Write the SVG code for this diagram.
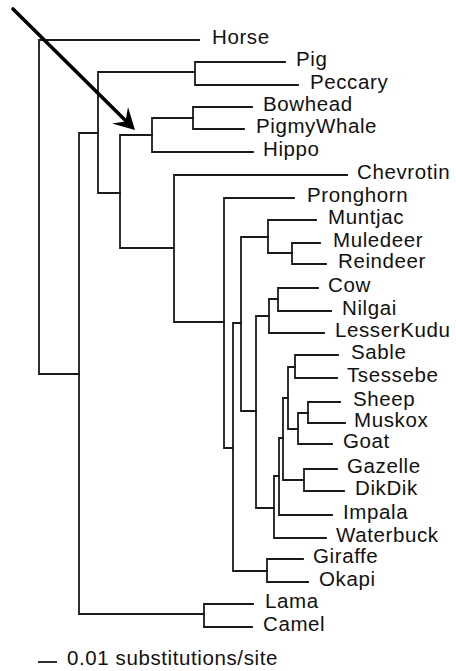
<svg xmlns="http://www.w3.org/2000/svg" width="456" height="671" viewBox="0 0 456 671">
<style>
  .br { fill: none; stroke: #1a1a1a; stroke-width: 1.8; stroke-linecap: square; }
  .lb { font-family: "Liberation Sans", Arial, Helvetica, sans-serif; font-size: 20.5px; letter-spacing: 0.6px; fill: #111; }
</style>
<rect width="456" height="671" fill="#ffffff"/>
<g id="connectors" class="br">
  <path d="M39,40 V374 M39,40 H199 M39,374 H79"/>
  <path d="M79,133 V614 M79,133 H98 M79,614 H204"/>
  <path d="M204,604 V627 M204,604 H253 M204,627 H252"/>
  <path d="M98,72 V193 M98,72 H195 M98,193 H120"/>
  <path d="M195,62 V85 M195,62 H285 M195,85 H298"/>
  <path d="M120,135 V248 M120,135 H152 M120,248 H174"/>
  <path d="M152,118 V152 M152,118 H193 M152,152 H253"/>
  <path d="M193,107 V129 M193,107 H252 M193,129 H244"/>
  <path d="M174,175 V322 M174,175 H347 M174,322 H224"/>
  <path d="M224,198 V448 M224,198 H294 M224,448 H233"/>
  <path d="M233,323 V571 M233,323 H241 M233,571 H267"/>
  <path d="M267,559 V582 M267,559 H303 M267,582 H308"/>
  <path d="M241,237 V411 M241,237 H268 M241,411 H256"/>
  <path d="M268,220 V253 M268,220 H316 M268,253 H292"/>
  <path d="M292,243 V264 M292,243 H320 M292,264 H326"/>
  <path d="M256,316 V508 M256,316 H269 M256,508 H274"/>
  <path d="M269,299 V333 M269,299 H278 M269,333 H324"/>
  <path d="M278,288 V311 M278,288 H318 M278,311 H331"/>
  <path d="M274,476 V538 M274,476 H279 M274,538 H326"/>
  <path d="M279,438 V515 M279,438 H283 M279,515 H332"/>
  <path d="M283,398 V480 M283,398 H288 M283,480 H304"/>
  <path d="M304,469 V491 M304,469 H337 M304,491 H344"/>
  <path d="M288,367 V429 M288,367 H295 M288,429 H298"/>
  <path d="M295,355 V378 M295,355 H338 M295,378 H337"/>
  <path d="M298,413 V444 M298,413 H308 M298,444 H332"/>
  <path d="M308,402 V423 M308,402 H340 M308,423 H345"/>
</g>
<g id="arrow">
  <line x1="13" y1="9" x2="127" y2="122" stroke="#000" stroke-width="3.6" stroke-linecap="round"/>
  <path d="M135,130 L128,107 L125.5,121.5 L112,123.5 Z" fill="#000"/>
</g>
<g id="leaf-horse"><text class="lb" x="212" y="44">Horse</text></g>
<g id="leaf-pig"><text class="lb" x="296" y="66">Pig</text></g>
<g id="leaf-peccary"><text class="lb" x="310" y="89">Peccary</text></g>
<g id="leaf-bowhead"><text class="lb" x="263" y="111">Bowhead</text></g>
<g id="leaf-pigmywhale"><text class="lb" x="256" y="133">PigmyWhale</text></g>
<g id="leaf-hippo"><text class="lb" x="263" y="156">Hippo</text></g>
<g id="leaf-chevrotin"><text class="lb" x="357" y="179">Chevrotin</text></g>
<g id="leaf-pronghorn"><text class="lb" x="307" y="202">Pronghorn</text></g>
<g id="leaf-muntjac"><text class="lb" x="328" y="224">Muntjac</text></g>
<g id="leaf-muledeer"><text class="lb" x="333" y="247">Muledeer</text></g>
<g id="leaf-reindeer"><text class="lb" x="338" y="268">Reindeer</text></g>
<g id="leaf-cow"><text class="lb" x="328" y="292">Cow</text></g>
<g id="leaf-nilgai"><text class="lb" x="342" y="315">Nilgai</text></g>
<g id="leaf-lesserkudu"><text class="lb" x="335" y="337">LesserKudu</text></g>
<g id="leaf-sable"><text class="lb" x="351" y="359">Sable</text></g>
<g id="leaf-tsessebe"><text class="lb" x="347" y="382">Tsessebe</text></g>
<g id="leaf-sheep"><text class="lb" x="353" y="406">Sheep</text></g>
<g id="leaf-muskox"><text class="lb" x="354" y="427">Muskox</text></g>
<g id="leaf-goat"><text class="lb" x="343" y="448">Goat</text></g>
<g id="leaf-gazelle"><text class="lb" x="347" y="473">Gazelle</text></g>
<g id="leaf-dikdik"><text class="lb" x="355" y="495">DikDik</text></g>
<g id="leaf-impala"><text class="lb" x="343" y="519">Impala</text></g>
<g id="leaf-waterbuck"><text class="lb" x="336" y="542">Waterbuck</text></g>
<g id="leaf-giraffe"><text class="lb" x="313" y="563">Giraffe</text></g>
<g id="leaf-okapi"><text class="lb" x="319" y="586">Okapi</text></g>
<g id="leaf-lama"><text class="lb" x="265" y="608">Lama</text></g>
<g id="leaf-camel"><text class="lb" x="263" y="631">Camel</text></g>
<g id="scale">
  <line x1="38" y1="662" x2="57" y2="662" stroke="#1a1a1a" stroke-width="1.8"/>
  <text class="lb" x="67" y="665">0.01 substitutions/site</text>
</g>
</svg>
